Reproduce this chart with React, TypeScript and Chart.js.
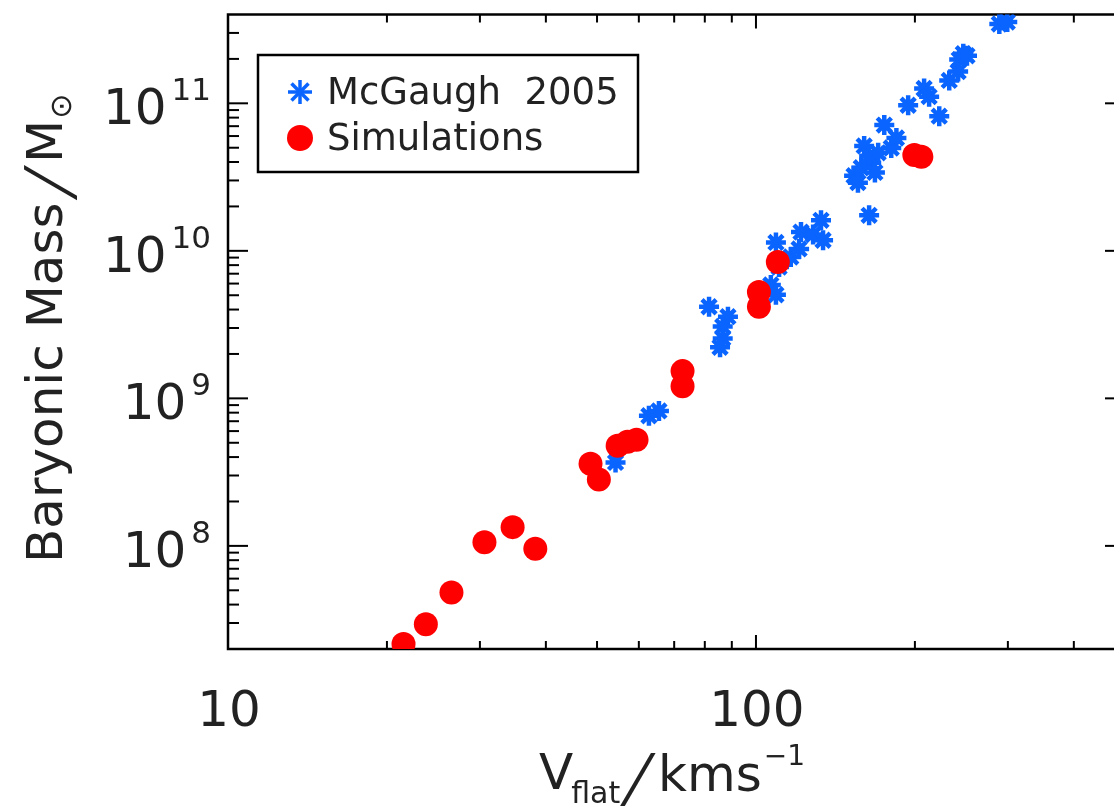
import React, { useEffect, useRef } from 'react';
import { Chart, registerables } from 'chart.js';

Chart.register(...registerables);

// ---------------- data ----------------
const seriesNames = ['McGaugh  2005', 'Simulations'];

const mcgaughVflat = [54.2, 62.7, 65.5, 81.5, 88.5, 86.5, 86.5, 85.5, 106.7, 109.1, 110.6, 109.1, 116.4, 120.7, 121.7, 128.3, 132.8, 134.0, 163.8, 153.4, 158.3, 165.3, 160.3, 163.8, 170.4, 175.0, 180.4, 184.5, 194.2, 208.2, 212.8, 222.4, 232.3, 241.5, 247.0, 242.6, 251.0, 289.0, 299.2, 156.0, 168.0];
const mcgaughMass = [3.68e8, 7.62e8, 8.22e8, 4.18e9, 3.58e9, 3.07e9, 2.55e9, 2.22e9, 5.87e9, 5.04e9, 7.76e9, 1.14e10, 9.08e9, 1.03e10, 1.34e10, 1.29e10, 1.61e10, 1.18e10, 1.74e10, 3.23e10, 3.66e10, 3.96e10, 5.14e10, 4.41e10, 4.62e10, 7.12e10, 4.98e10, 5.82e10, 9.7e10, 1.26e11, 1.11e11, 8.18e10, 1.43e11, 1.64e11, 2.17e11, 1.98e11, 2.1e11, 3.45e11, 3.56e11, 2.9e10, 3.4e10];

const simVflat = [21.5, 23.7, 26.5, 30.6, 34.6, 38.2, 48.6, 50.4, 54.7, 57.1, 59.4, 72.6, 72.6, 101.3, 101.3, 110.0, 199.5, 205.7];
const simMass = [2.16e7, 2.94e7, 4.83e7, 1.06e8, 1.34e8, 9.55e7, 3.6e8, 2.82e8, 4.78e8, 5.08e8, 5.25e8, 1.53e9, 1.21e9, 5.27e9, 4.18e9, 8.4e9, 4.47e10, 4.34e10];

const xTickValues = [10, 100];
const xTickLabels = ['10', '100'];
const yTickValues = [1e8, 1e9, 1e10, 1e11];
const yTickExponents = ['8', '9', '10', '11'];

const xRange = [10, 500];
const yRange = [2e7, 4e11];

// ---------------- styles ----------------
const BLUE = '#0a64ff';
const RED = '#ff0000';
const INK = '#222222';
const FONT = "'DejaVu Sans', sans-serif";

function minorTicks(lo: number, hi: number): number[] {
  const out: number[] = [];
  let d = Math.pow(10, Math.floor(Math.log10(lo)));
  while (d < hi) {
    for (let k = 2; k <= 9; k++) {
      const v = k * d;
      if (v > lo && v < hi) out.push(v);
    }
    d *= 10;
  }
  return out;
}

function drawStar(ctx: CanvasRenderingContext2D, x: number, y: number, r: number) {
  for (let i = 0; i < 4; i++) {
    const a = (i * Math.PI) / 4;
    const dx = Math.cos(a) * r;
    const dy = Math.sin(a) * r;
    ctx.beginPath();
    ctx.moveTo(x - dx, y - dy);
    ctx.lineTo(x + dx, y + dy);
    ctx.stroke();
  }
}

// a long, thin, slanted slash (sheared glyph, still real text)
function drawSlash(ctx: CanvasRenderingContext2D, x: number, y: number) {
  ctx.save();
  ctx.translate(x, y);
  ctx.transform(1, 0, -0.36, 1.15, 0, 0);
  ctx.font = `56px ${FONT}`;
  ctx.fillText('/', 0, 0);
  ctx.restore();
}

const framePlugin = {
  id: 'idlFrame',
  beforeDraw(chart: any) {
    const { ctx, width, height } = chart;
    ctx.save();
    ctx.fillStyle = '#ffffff';
    ctx.fillRect(0, 0, width, height);
    ctx.restore();
  },
  beforeDatasetsDraw(chart: any) {
    const { ctx, chartArea: a, scales } = chart;
    const xs = scales.x;
    const ys = scales.y;
    ctx.save();
    ctx.strokeStyle = '#000';
    ctx.lineWidth = 2.5;
    ctx.strokeRect(a.left, a.top, a.right - a.left, a.bottom - a.top);

    ctx.lineWidth = 2;
    const line = (x1: number, y1: number, x2: number, y2: number) => {
      ctx.beginPath();
      ctx.moveTo(x1, y1);
      ctx.lineTo(x2, y2);
      ctx.stroke();
    };
    // x ticks (bottom & top)
    xTickValues.forEach((v) => {
      const px = xs.getPixelForValue(v);
      line(px, a.bottom, px, a.bottom - 14);
      line(px, a.top, px, a.top + 14);
    });
    minorTicks(xRange[0], xRange[1]).forEach((v) => {
      const px = xs.getPixelForValue(v);
      line(px, a.bottom, px, a.bottom - 8);
      line(px, a.top, px, a.top + 8);
    });
    // y ticks (left & right)
    yTickValues.forEach((v) => {
      const py = ys.getPixelForValue(v);
      line(a.left, py, a.left + 20, py);
      line(a.right, py, a.right - 20, py);
    });
    minorTicks(yRange[0], yRange[1]).forEach((v) => {
      const py = ys.getPixelForValue(v);
      line(a.left, py, a.left + 11, py);
      line(a.right, py, a.right - 11, py);
    });

    // tick labels
    ctx.fillStyle = INK;
    ctx.textBaseline = 'alphabetic';
    ctx.font = `50px ${FONT}`;
    ctx.textAlign = 'center';
    xTickValues.forEach((v, i) => {
      const px = xs.getPixelForValue(v);
      ctx.fillText(xTickLabels[i], px + 1, 726);
    });
    yTickValues.forEach((v, i) => {
      const py = ys.getPixelForValue(v);
      ctx.textAlign = 'right';
      ctx.font = `31px ${FONT}`;
      const ew = ctx.measureText(yTickExponents[i]).width;
      ctx.fillText(yTickExponents[i], 211, py - 3);
      ctx.font = `50px ${FONT}`;
      ctx.fillText('10', 211 - ew - 5, py + 21);
    });

    // x title: V_flat / kms^-1
    ctx.textAlign = 'left';
    let cx = 539;
    ctx.font = `50px ${FONT}`;
    ctx.fillText('V', cx, 789);
    cx += ctx.measureText('V').width - 2;
    ctx.font = `30px ${FONT}`;
    ctx.fillText('flat', cx, 803);
    drawSlash(ctx, 622, 800);
    cx = 658;
    ctx.font = `50px ${FONT}`;
    ctx.fillText('kms', cx, 791);
    cx += ctx.measureText('kms').width + 2;
    ctx.font = `28px ${FONT}`;
    ctx.fillText('\u22121', cx, 765);

    // y title: Baryonic Mass / M_sun (rotated)
    ctx.save();
    ctx.translate(62, 563);
    ctx.rotate(-Math.PI / 2);
    ctx.font = `50px ${FONT}`;
    ctx.fillText('Baryonic Mass', 0, 0);
    const s0 = ctx.measureText('Baryonic Mass').width + 4;
    drawSlash(ctx, s0, 9);
    let s = 400;
    ctx.font = `50px ${FONT}`;
    ctx.fillText('M', s, 0);
    s += ctx.measureText('M').width + 1;
    ctx.font = `30px ${FONT}`;
    ctx.fillText('\u2299', s, 9);
    ctx.restore();

    ctx.restore();
  },
  afterDatasetsDraw(chart: any) {
    const { ctx } = chart;
    ctx.save();
    // legend box
    ctx.fillStyle = '#ffffff';
    ctx.fillRect(258, 55, 380, 117);
    ctx.strokeStyle = '#000';
    ctx.lineWidth = 2.5;
    ctx.strokeRect(258, 55, 380, 117);
    // entries
    ctx.strokeStyle = BLUE;
    ctx.lineWidth = 3.5;
    drawStar(ctx, 300, 92, 12);
    ctx.fillStyle = RED;
    ctx.beginPath();
    ctx.arc(300, 138, 13, 0, Math.PI * 2);
    ctx.fill();
    ctx.fillStyle = INK;
    ctx.font = `37px ${FONT}`;
    ctx.textAlign = 'left';
    ctx.textBaseline = 'alphabetic';
    ctx.fillText(seriesNames[0], 327, 104);
    ctx.fillText(seriesNames[1], 327, 150);
    ctx.restore();
  },
};

export default function App() {
  const canvasRef = useRef<HTMLCanvasElement | null>(null);

  useEffect(() => {
    if (!canvasRef.current) return;
    const chart = new Chart(canvasRef.current, {
      type: 'scatter',
      data: {
        datasets: [
          {
            label: seriesNames[0],
            data: mcgaughVflat.map((v, i) => ({ x: v, y: mcgaughMass[i] })),
            pointStyle: 'star',
            pointRadius: 10,
            pointBorderWidth: 4.5,
            borderColor: BLUE,
            backgroundColor: BLUE,
            order: 2,
            clip: 0,
          },
          {
            label: seriesNames[1],
            data: simVflat.map((v, i) => ({ x: v, y: simMass[i] })),
            pointStyle: 'circle',
            pointRadius: 12,
            pointBorderWidth: 0,
            borderColor: RED,
            backgroundColor: RED,
            order: 1,
            clip: 0,
          },
        ],
      },
      options: {
        responsive: false,
        animation: false,
        devicePixelRatio: 1,
        layout: { padding: { left: 228, top: 12, right: 35, bottom: 158 } },
        plugins: { legend: { display: false }, tooltip: { enabled: false } },
        events: [],
        scales: {
          x: { type: 'logarithmic', min: xRange[0], max: xRange[1], display: false },
          y: { type: 'logarithmic', min: yRange[0], max: yRange[1], display: false },
        },
      },
      plugins: [framePlugin],
    });
    return () => chart.destroy();
  }, []);

  return (
    <div style={{ position: 'fixed', left: 0, top: 0, width: 1114, height: 807, overflow: 'hidden', background: '#fff' }}>
      <canvas ref={canvasRef} width={1160} height={807} style={{ display: 'block' }} />
    </div>
  );
}
